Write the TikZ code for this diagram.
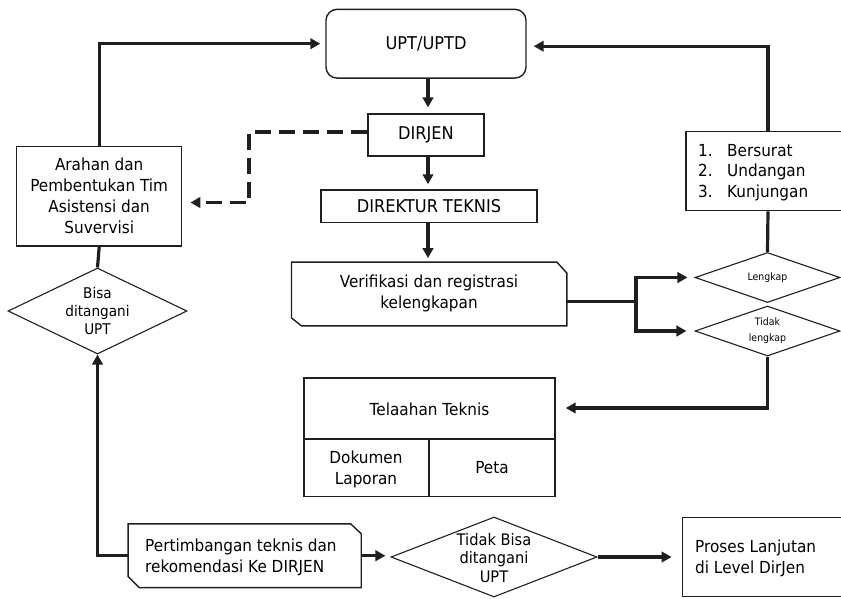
\documentclass[tikz,border=0pt]{standalone}
\usepackage{fontspec}
\setmainfont{DejaVu Sans}[FakeStretch=0.92]
\usetikzlibrary{arrows.meta,shapes.geometric,calc}

\newcommand{\txtmain}{\fontsize{16.6pt}{21pt}\selectfont}
\newcommand{\txtcaps}{\fontsize{17.6pt}{21pt}\selectfont}
\newcommand{\txtmid}{\fontsize{15.9pt}{18.5pt}\selectfont}
\newcommand{\txtsmall}{\fontsize{10.2pt}{16pt}\selectfont}

\tikzset{
  ink/.style={draw=black!88},
  boxshape/.style={ink, line width=1.4pt, rectangle, inner sep=0pt},
  ghost/.style={rectangle, inner sep=0pt},
  decision/.style={ink, line width=1.1pt, diamond, inner sep=0pt},
  label/.style={inner sep=0pt, align=center, font=\txtmain},
  flow/.style={draw=black!88, line width=3.2pt, line join=miter},
  flowarr/.style={flow, -{Triangle[length=10pt,width=10.5pt]}},
  dasharr/.style={flowarr, line width=3.4pt, dash pattern=on 16pt off 8pt},
  outline/.style={ink, line width=1.4pt, line join=miter}
}

\begin{document}
\begin{tikzpicture}[x=1pt,y=-1pt]
\useasboundingbox (0,0) rectangle (841,598);
\clip (0,0) rectangle (841,598);

% ---- boxes ----
\node[boxshape, rounded corners=11pt, minimum width=200pt, minimum height=68.7pt] (upt) at (426,43.7) {};
\node[label, font=\txtcaps] (upttxt) at (upt.center) {UPT/UPTD};

\node[boxshape, minimum width=116.3pt, minimum height=41.7pt] (dirjen) at (426,135) {};
\node[label, font=\txtcaps] (dirjentxt) at (dirjen.center) {DIRJEN};

\node[boxshape, minimum width=216pt, minimum height=32.7pt] (direktur) at (429,206.3) {};
\node[label, font=\txtcaps] (direkturtxt) at (direktur.center) {DIREKTUR TEKNIS};

% chamfered process box
\node[ghost, minimum width=275pt, minimum height=63.4pt] (verif) at (429.2,294) {};
\draw[outline] (verif.north west) -- ([xshift=-10pt]verif.north east) -- ([yshift=-11pt]verif.north east)
  -- (verif.south east) -- ([xshift=10pt]verif.south west) -- ([yshift=8pt]verif.south west) -- cycle;
\node[label] (veriftxt) at (429,293.5) {Verifikasi dan registrasi\\kelengkapan};

\node[boxshape, minimum width=165pt, minimum height=99.3pt] (arahan) at (99.2,196.3) {};
\node[label] (arahantxt) at (arahan.center) {Arahan dan\\Pembentukan Tim\\Asistensi dan\\Suvervisi};

\node[decision, minimum width=179pt, minimum height=86pt] (bisa) at (97.5,311) {};
\node[label, font=\fontsize{14.8pt}{18pt}\selectfont] (bisatxt) at (bisa.center) {Bisa\\ditangani\\UPT};

\node[boxshape, minimum width=164pt, minimum height=79pt] (bersurat) at (768,171.2) {};
\node[inner sep=0pt, anchor=west, align=left, font=\fontsize{16.6pt}{20.5pt}\selectfont] (bersurattxt) at (698,172.5)
  {\makebox[29pt][l]{1.}Bersurat\\\makebox[29pt][l]{2.}Undangan\\\makebox[29pt][l]{3.}Kunjungan};

\node[decision, minimum width=145pt, minimum height=50pt] (lengkap) at (767.5,277.5) {};
\node[label, font=\txtsmall] (lengkaptxt) at (lengkap.center) {Lengkap};

\node[decision, minimum width=145pt, minimum height=50pt] (tidak) at (767.5,331) {};
\node[label, font=\txtsmall] (tidaktxt) at (tidak.center) {Tidak\\lengkap};

% table box
\node[boxshape, minimum width=251pt, minimum height=118.7pt] (tel) at (429.5,437.4) {};
\coordinate (telmidL) at (304,439);
\coordinate (telmidR) at (555,439);
\coordinate (telsplit) at (429,439);
\draw[outline] (telmidL) -- (telmidR);
\draw[outline] (telsplit) -- (telsplit |- tel.south);
\node[label] (teltxt) at (429.5,409) {Telaahan Teknis};
\node[label] (doktxt) at (366,469) {Dokumen\\Laporan};
\node[label] (petatxt) at (492,468) {Peta};

% chamfered recommendation box
\node[ghost, minimum width=232.7pt, minimum height=63.3pt] (pert) at (244.7,555.7) {};
\draw[outline] (pert.north west) -- ([xshift=-10.5pt]pert.north east) -- ([yshift=-10pt]pert.north east)
  -- (pert.south east) -- ([xshift=11pt]pert.south west) -- ([yshift=11pt]pert.south west) -- cycle;
\node[inner sep=0pt, anchor=west, align=left, font=\txtmain] (perttxt) at (145,557)
  {Pertimbangan teknis dan\\rekomendasi Ke DIRJEN};

\node[decision, minimum width=206pt, minimum height=80pt] (tbisa) at (494,557) {};
\node[label, font=\txtmid] (tbisatxt) at (494,558) {Tidak Bisa\\ditangani\\UPT};

\node[boxshape, minimum width=167.7pt, minimum height=79pt] (proses) at (766.2,557.2) {};
\node[inner sep=0pt, anchor=west, align=left, font=\txtmain] (prosestxt) at (695,558)
  {Proses Lanjutan\\di Level DirJen};

% ---- connectors ----
\draw[flowarr, shorten >=5pt] (arahan.north) |- (upt.west);
\draw[flowarr, shorten >=7pt] (bersurat.north) |- ([yshift=-2.5pt]upt.east);
\draw[flowarr, shorten >=6pt] ([xshift=2pt]upt.south) -- ([xshift=2pt]upt.south |- dirjen.north);
\draw[flowarr, shorten >=5pt] ([xshift=2pt]dirjen.south) -- ([xshift=2pt]dirjen.south |- direktur.north);
\draw[flowarr, shorten >=4pt] ([xshift=-1pt]direktur.south) -- ([xshift=-1pt]direktur.south |- verif.north);

\coordinate (split) at (636,301.5);
\draw[flow] (verif.east |- split) -- (split);
\draw[flowarr, shorten >=7pt] (split) |- (lengkap.west);
\draw[flowarr, shorten >=8pt] (split) |- (tidak.west);

\draw[flow] (lengkap.north) -- (bersurat.south);

\coordinate (tk) at (tidak.south |- 0,408);
\draw[flowarr, shorten >=10pt] (tidak.south) -- (tk) -- (tk -| tel.east);

\draw[flow] (bisa.north) -- (arahan.south);
\draw[flowarr] (pert.west) -| (bisa.south);
\draw[flowarr, shorten >=5pt] (pert.east) -- (pert.east -| tbisa.west);
\draw[flowarr, shorten >=10pt] (tbisa.east) -- (tbisa.east -| proses.west);

\coordinate (d1) at (249,132);
\coordinate (d2) at (249,202.5);
\draw[dasharr, shorten >=8pt] (dirjen.west |- d1) -- (d1) -- (d2) -- (d2 -| arahan.east);

\end{tikzpicture}
\end{document}
